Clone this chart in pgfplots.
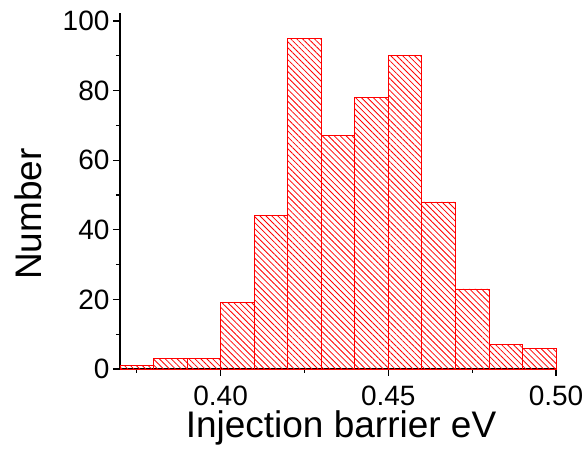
\documentclass[border=0pt]{standalone}
\usepackage{fontspec}
\setmainfont{Liberation Sans}
\usepackage{pgfplots}
\pgfplotsset{compat=1.18}
\usetikzlibrary{patterns.meta}
\begin{document}
\begin{tikzpicture}
% frame of the whole picture, in the reference's pixels
\useasboundingbox (-120pt,-80pt) rectangle (467pt,369pt);
\begin{axis}[
    at={(0,0)}, anchor=south west,
    scale only axis,
    width=436pt, height=356pt,
    xmin=0.37, xmax=0.50, ymin=0, ymax=102.3,
    axis x line=bottom, axis y line=left,
    axis line style={-, line width=1.3pt},
    xtick={0.40,0.45,0.50},
    minor xtick={0.375,0.425,0.475},
    ytick={0,20,...,100},
    minor ytick={10,30,...,90},
    tick align=outside,
    major tick length=7pt, minor tick length=4pt,
    every tick/.style={black, line width=1.2pt},
    /pgf/number format/assume math mode=true,
    xticklabel style={/pgf/number format/fixed, /pgf/number format/fixed zerofill,
        /pgf/number format/precision=2, yshift=-6pt},
    tick label style={font=\fontsize{28}{32}\selectfont},
    label style={font=\fontsize{37}{42}\selectfont},
    xlabel={Injection barrier eV},
    ylabel={Number},
    xlabel style={at={(axis description cs:0.507,0)}, anchor=base, yshift=-69pt},
    ylabel style={at={(axis description cs:-0.211,0.435)}, anchor=center},
    clip=false,
]
\addplot[ybar interval, draw=red, line width=0.8pt,
    pattern={Lines[angle=-45, distance=4.2pt, line width=0.8pt]}, pattern color=red]
  coordinates {
    (0.37,1) (0.38,3) (0.39,3) (0.40,19) (0.41,44) (0.42,95) (0.43,67)
    (0.44,78) (0.45,90) (0.46,48) (0.47,23) (0.48,7) (0.49,6) (0.50,6)
  };
\end{axis}
\end{tikzpicture}
\end{document}
